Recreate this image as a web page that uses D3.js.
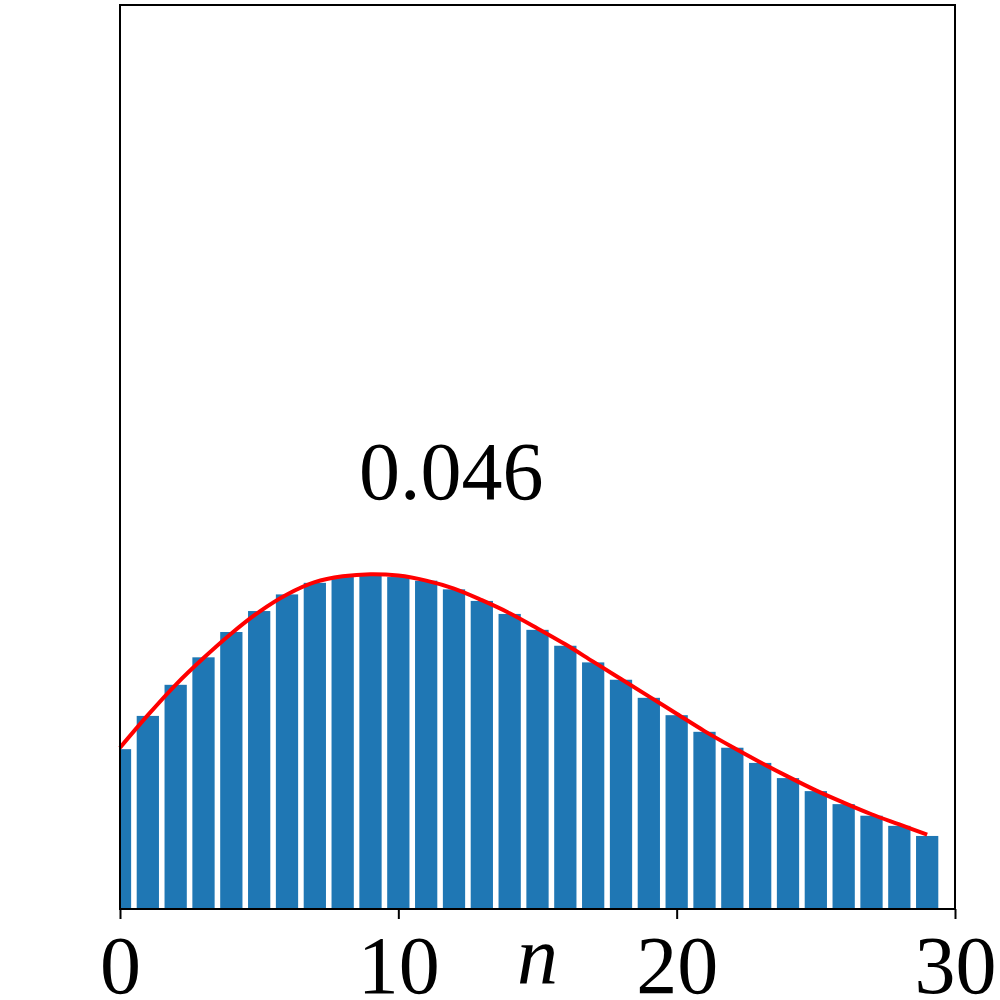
<!DOCTYPE html>
<html>
<head>
    <meta charset="utf-8">
    <title>n distribution</title>
    <script src="https://cdn.jsdelivr.net/npm/d3@7"></script>
    <style>
        body { margin: 0; background: #fff; }
        text { font-family: "Liberation Serif", "Times New Roman", serif; }
    </style>
</head>
<body>
<script>
    // counts for n = 0..29
    var nValues = d3.range(0, 30);
    var barValues = [0.0221, 0.0267, 0.0310, 0.0348, 0.0383, 0.0412, 0.0435, 0.0451, 0.0459, 0.0462,
                     0.0459, 0.0454, 0.0442, 0.0426, 0.0408, 0.0386, 0.0364, 0.0341, 0.0317, 0.0292,
                     0.0268, 0.0245, 0.0223, 0.0202, 0.0181, 0.0163, 0.0145, 0.0129, 0.0115, 0.0101];
    // fitted curve at the same n
    var fitValues = [0.0223, 0.0268, 0.0310, 0.0347, 0.0381, 0.0411, 0.0435, 0.0452, 0.0460, 0.0463,
                     0.0461, 0.0454, 0.0443, 0.0427, 0.0409, 0.0388, 0.0366, 0.0342, 0.0318, 0.0294,
                     0.0270, 0.0246, 0.0224, 0.0203, 0.0183, 0.0164, 0.0147, 0.0131, 0.0117, 0.0103];
    var xTicks = [0, 10, 20, 30];
    var annotation = "0.046";

    var width = 1000,
        height = 1000,
        margin = {top: 5, right: 45, bottom: 91, left: 120};

    var svg = d3.select("body").append("svg")
        .attr("width", width)
        .attr("height", height);

    var x = d3.scaleLinear().domain([0, 30]).range([margin.left, width - margin.right]);
    var y = d3.scaleLinear().domain([0, 0.125]).range([height - margin.bottom, margin.top]);

    svg.append("clipPath").attr("id", "plot")
        .append("rect")
        .attr("x", margin.left).attr("y", margin.top)
        .attr("width", x(30) - x(0)).attr("height", y(0) - y(0.125));

    var barW = x(0.8) - x(0);

    svg.append("g")
        .attr("clip-path", "url(#plot)")
        .selectAll("rect.bar")
        .data(barValues)
        .enter()
        .append("rect")
        .attr("class", "bar")
        .attr("fill", "#1f77b4")
        .attr("x", function (d, i) { return x(nValues[i]) - barW / 2; })
        .attr("width", barW)
        .attr("y", function (d) { return y(d); })
        .attr("height", function (d) { return y(0) - y(d); });

    var line = d3.line()
        .x(function (d, i) { return x(nValues[i]); })
        .y(function (d) { return y(d); })
        .curve(d3.curveCatmullRom);

    svg.append("path")
        .datum(fitValues)
        .attr("fill", "none")
        .attr("stroke", "#ff0000")
        .attr("stroke-width", 4)
        .attr("d", line);

    // frame
    svg.append("rect")
        .attr("x", x(0)).attr("y", y(0.125))
        .attr("width", x(30) - x(0)).attr("height", y(0) - y(0.125))
        .attr("fill", "none")
        .attr("stroke", "#000")
        .attr("stroke-width", 2);

    var xAxis = svg.append("g")
        .attr("transform", "translate(0," + y(0) + ")")
        .call(d3.axisBottom(x).tickValues(xTicks).tickSize(10).tickFormat(d3.format("d")));
    xAxis.select(".domain").remove();
    xAxis.selectAll(".tick line").attr("stroke-width", 2);
    xAxis.selectAll(".tick text")
        .attr("dy", null)
        .attr("y", 84)
        .attr("font-size", 82)
        .attr("font-family", "Liberation Serif");

    svg.append("text")
        .attr("x", (x(0) + x(30)) / 2)
        .attr("y", 983)
        .attr("text-anchor", "middle")
        .attr("font-size", 82)
        .attr("font-style", "italic")
        .text("n");

    svg.append("text")
        .attr("x", x(11.9))
        .attr("y", y(0.0567))
        .attr("text-anchor", "middle")
        .attr("font-size", 82)
        .text(annotation);
</script>
</body>
</html>
